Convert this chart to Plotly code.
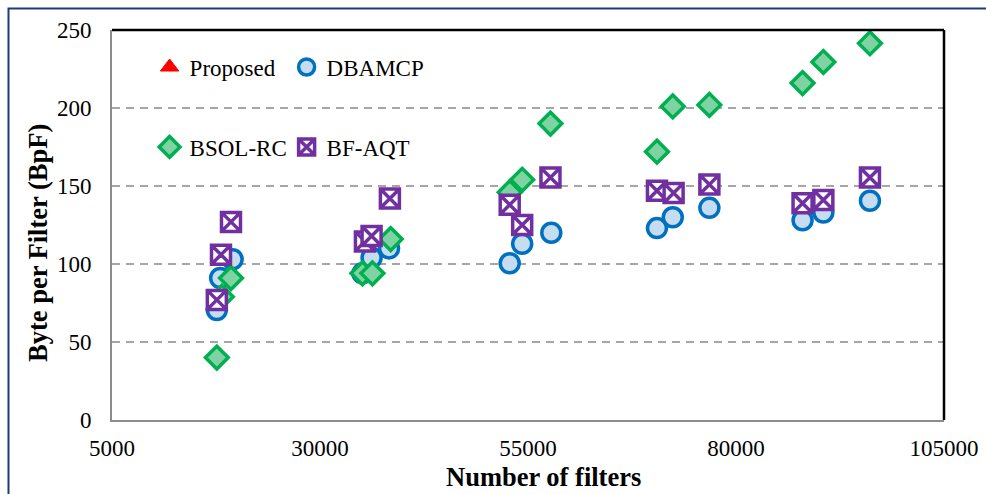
import plotly.graph_objects as go

# Number of filters (x) and byte-per-filter (y) for each scheme
proposed_x = [None]
proposed_y = [None]

dbamcp_x = [17600, 18000, 19500, 35100, 36200, 38300, 52800, 54300, 57800,
            70500, 72400, 76800, 88000, 90500, 96100]
dbamcp_y = [70.5, 91, 103, 94, 104, 110, 100.5, 113, 120,
            123, 130, 136, 128, 133, 140.5]

bsol_x = [17600, 18200, 19300, 35100, 36300, 38500, 52800, 54300, 57700,
          70500, 72400, 76800, 88000, 90500, 96100]
bsol_y = [40, 79, 91, 94, 94, 116, 146, 154, 190,
          172, 201, 202, 216, 229.5, 241.5]

bfaqt_x = [17600, 18100, 19300, 35400, 36200, 38400, 52800, 54300, 57700,
           70500, 72500, 76800, 88000, 90500, 96100]
bfaqt_y = [77, 106, 127, 114.5, 118, 142, 138, 125, 155.5,
           147, 145.5, 151, 139, 141, 155.5]

x_ticks = [5000, 30000, 55000, 80000, 105000]
y_ticks = [0, 50, 100, 150, 200, 250]

x_title = "Number of filters"
y_title = "Byte per Filter (BpF)"

FONT = "Liberation Serif, Times New Roman, serif"

fig = go.Figure()

fig.add_trace(go.Scatter(
    x=proposed_x, y=proposed_y, mode="markers", name="Proposed", legend="legend",
    marker=dict(symbol="triangle-up", size=17, color="#ff0000",
                line=dict(color="#ff0000", width=1)),
))
fig.add_trace(go.Scatter(
    x=dbamcp_x, y=dbamcp_y, mode="markers", name="DBAMCP", legend="legend",
    marker=dict(symbol="circle", size=19, color="#c6ddf1",
                line=dict(color="#0070c0", width=3.5)),
))
fig.add_trace(go.Scatter(
    x=bsol_x, y=bsol_y, mode="markers", name="BSOL-RC", legend="legend2",
    marker=dict(symbol="diamond", size=17.5, color="#7fd3a2",
                line=dict(color="#00b050", width=3.5)),
))
fig.add_trace(go.Scatter(
    x=bfaqt_x, y=bfaqt_y, mode="markers", name="BF-AQT", legend="legend2",
    marker=dict(symbol="square-x", size=19, color="#ffffff",
                line=dict(color="#7030a0", width=3.5)),
))

legend_common = dict(
    orientation="h", xanchor="left", yanchor="middle",
    bgcolor="rgba(0,0,0,0)", font=dict(family=FONT, size=23, color="#000000"),
    itemwidth=30, entrywidth=92, traceorder="normal",
)

fig.update_layout(
    width=986, height=494,
    margin=dict(l=112, r=42, t=30, b=74),
    paper_bgcolor="#ffffff", plot_bgcolor="#ffffff",
    font=dict(family=FONT, color="#000000"),
    showlegend=True,
    legend=dict(x=0.0452, y=0.905, **legend_common),
    legend2=dict(x=0.0452, y=0.70, **legend_common),
    xaxis=dict(
        range=[5000, 105000], tickvals=x_ticks, ticktext=[str(v) for v in x_ticks],
        showgrid=False, zeroline=False, ticks="", automargin=False,
        showline=True, linecolor="#8c8c8c", linewidth=2,
        tickfont=dict(family=FONT, size=23), ticklabelstandoff=6,
    ),
    yaxis=dict(
        range=[0, 250], tickvals=y_ticks, showgrid=True, gridcolor="#a6a6a6",
        gridwidth=2, griddash="8px,6px", zeroline=False, ticks="", automargin=False,
        showline=True, linecolor="#8c8c8c", linewidth=2,
        tickfont=dict(family=FONT, size=23), ticklabelstandoff=14,
    ),
    annotations=[
        dict(text="<b>" + x_title + "</b>", xref="paper", yref="paper",
             x=0.519, y=-0.146, xanchor="center", yanchor="middle", showarrow=False,
             font=dict(family=FONT, size=26.5, color="#000000")),
        dict(text="<b>" + y_title + "</b>", xref="paper", yref="paper",
             x=-0.0889, y=0.454, xanchor="center", yanchor="middle", showarrow=False,
             textangle=-90, font=dict(family=FONT, size=26.5, color="#000000")),
    ],
    shapes=[
        # dark top and right edges of the plot frame
        dict(type="line", xref="paper", yref="paper", x0=0, x1=1, y0=1, y1=1,
             line=dict(color="#000000", width=2.5)),
        dict(type="line", xref="paper", yref="paper", x0=1, x1=1, y0=0, y1=1,
             line=dict(color="#000000", width=2.5)),
        # outer figure border
        dict(type="rect", xref="paper", yref="paper",
             x0=-0.1244, x1=1.1, y0=-0.3, y1=1.0551,
             line=dict(color="#203a78", width=2), layer="below"),
    ],
)

fig.write_html("out.html")
